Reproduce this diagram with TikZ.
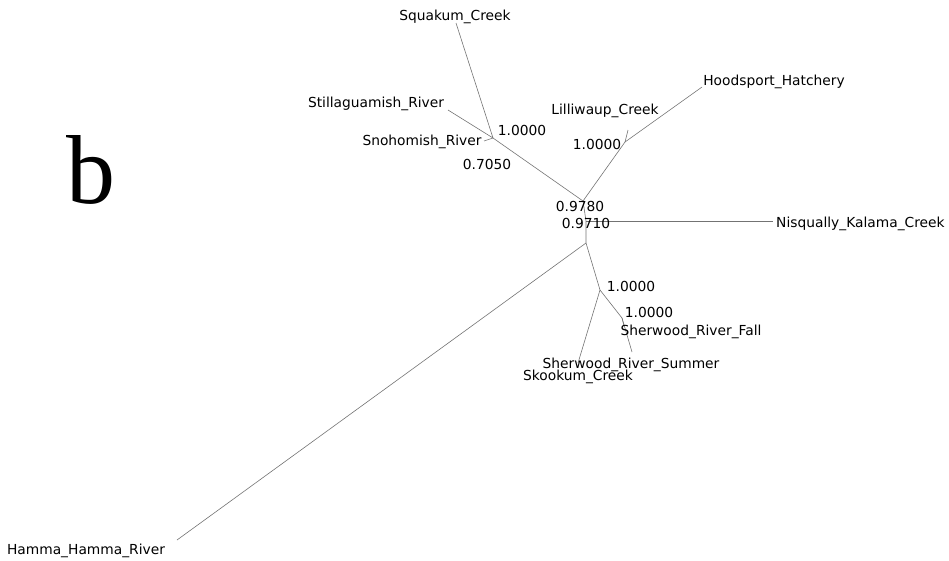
\documentclass[tikz,border=0pt]{standalone}
\usepackage{fontspec}
\setmainfont{DejaVu Sans}
\newfontfamily\panelfont{Liberation Serif}

\tikzset{
  branch/.style={draw=black!55, line width=0.6pt},
  taxon/.style={inner sep=0pt, yshift=-1.5pt, font=\fontsize{13.8}{16}\selectfont},
  support/.style={inner sep=0pt, yshift=-1.5pt, font=\fontsize{13.8}{16}\selectfont}
}

\begin{document}
\begin{tikzpicture}[x=1pt, y=-1pt]
            \useasboundingbox (0, 0) rectangle (949, 560);

            % Inre noder
            \coordinate (snoj) at (493, 138);
            \coordinate (lilj) at (625, 142);
            \coordinate (cen) at (583, 201);
            \coordinate (nisj) at (586, 221);
            \coordinate (low) at (586, 243);
            \coordinate (skoj) at (600, 290);
            \coordinate (sherj) at (622, 318);

            % Bladspetsar
            \coordinate (squ) at (456, 23);
            \coordinate (sti) at (448, 110);
            \coordinate (sno) at (484, 141);
            \coordinate (lil) at (628, 130);
            \coordinate (hoo) at (702, 87);
            \coordinate (nis) at (773, 221);
            \coordinate (ham) at (177, 540);
            \coordinate (sko) at (578, 363);
            \coordinate (shf) at (624, 326);
            \coordinate (shs) at (632, 352);

            % Grenar
            \draw[branch] (squ) -- (snoj);
            \draw[branch] (sti) -- (snoj) -- (cen);
            \draw[branch] (sno) -- (snoj);
            \draw[branch] (lil) -- (lilj);
            \draw[branch] (hoo) -- (lilj) -- (cen);
            \draw[branch] (cen) -- (nisj) -- (low);
            \draw[branch] (nisj) -- (nis);
            \draw[branch] (low) -- (ham);
            \draw[branch] (low) -- (skoj) -- (sko);
            \draw[branch] (skoj) -- (sherj) -- (shs);
            \draw[branch] (sherj) -- (shf);

            % Taxonnamn
            \node[taxon] (nsqu) at (455, 15) {Squakum\_Creek};
            \node[taxon] (nsti) at (376, 102) {Stillaguamish\_River};
            \node[taxon] (nsno) at (422, 140) {Snohomish\_River};
            \node[taxon] (nlil) at (605, 109) {Lilliwaup\_Creek};
            \node[taxon] (nhoo) at (774, 80) {Hoodsport\_Hatchery};
            \node[taxon, anchor=west] (nnis) at (776, 222) {Nisqually\_Kalama\_Creek};
            \node[taxon] (nshf) at (691, 330) {Sherwood\_River\_Fall};
            \node[taxon] (nshs) at (631, 363) {Sherwood\_River\_Summer};
            \node[taxon] (nsko) at (578, 375) {Skookum\_Creek};
            \node[taxon] (nham) at (86, 549) {Hamma\_Hamma\_River};

            % Stodvarden
            \node[support] (s1) at (522, 129) {1.0000};
            \node[support] (s2) at (487, 163) {0.7050};
            \node[support] (s3) at (597, 143) {1.0000};
            \node[support] (s4) at (580, 205) {0.9780};
            \node[support] (s5) at (586, 222) {0.9710};
            \node[support] (s6) at (631, 285) {1.0000};
            \node[support] (s7) at (649, 311) {1.0000};

            % Panelbokstav
            \node[inner sep=0pt, anchor=base, font=\panelfont\fontsize{98}{100}\selectfont] (panel) at (91, 203) {b};
        \end{tikzpicture}
\end{document}
